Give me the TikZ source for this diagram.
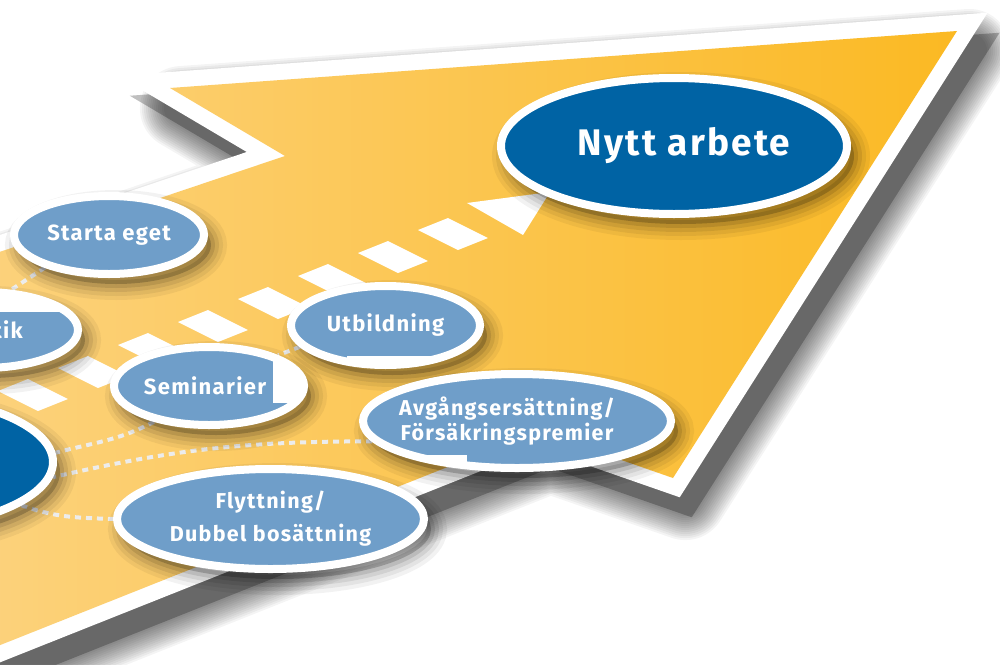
\documentclass[tikz,border=0pt]{standalone}
\usepackage{fontspec}
\setmainfont{Fira Sans}[LetterSpace=6, Ligatures=NoCommon]
\usetikzlibrary{shapes.geometric}
\pgfdeclarelayer{back}
\pgfsetlayers{back,main}
\definecolor{lblue}{RGB}{111,158,201}
\definecolor{dblue}{RGB}{0,99,164}
\definecolor{yleft}{RGB}{252,211,128}
\definecolor{yright}{RGB}{251,185,35}
\definecolor{dashgray}{RGB}{236,236,236}
\begin{document}
\begin{tikzpicture}[x=1pt,y=-1pt,
  ell/.style={ellipse, draw=white, line width=8pt, inner sep=-18pt, text=white, align=center,
    font=\bfseries\fontsize{22}{25}\selectfont,
    preaction={fill=black, fill opacity=0.2, transform canvas={shift={(7,10)}}},
    preaction={draw=black, draw opacity=0.1, line width=8pt, transform canvas={shift={(7,10)}}},
    preaction={draw=black, draw opacity=0.08, line width=16pt, transform canvas={shift={(7,10)}}},
    preaction={draw=black, draw opacity=0.06, line width=24pt, transform canvas={shift={(7,10)}}},
    preaction={draw=black, draw opacity=0.05, line width=32pt, transform canvas={shift={(7,10)}}}},
  lightell/.style={ell, fill=lblue},
  darkell/.style={ell, fill=dblue},
  conn/.style={draw=dashgray, line width=4pt, dash pattern=on 6pt off 5pt},
  stripebox/.style={fill=white},
  artefact/.style={fill=white}]
\useasboundingbox (0,0) rectangle (1000,664);
\def\arrowpath{(170,88) -- (957,31) -- (673,478) -- (538,431) -- (-60,669) -- (-60,272) -- (285,156) -- cycle}
\begin{pgfonlayer}{back}
\fill[white] (0,0) rectangle (1000,664);
% soft shadow of the big arrow
\foreach \i in {1,...,13}{
  \pgfmathsetmacro{\lw}{32+4*\i}
  \draw[line width=\lw pt, draw opacity=0.045, line join=round, shift={(12,20)}] \arrowpath;
}
\draw[line width=32pt, draw opacity=0.25, line join=miter, shift={(12,20)}] \arrowpath;
% white border and yellow body
\draw[white, line width=32pt, line join=miter] \arrowpath;
\shade[left color=yleft, right color=yright] \arrowpath;
% striped white arrow
\foreach \k in {0,...,7}{
  \fill[stripebox] ({418-60*\k},{230+23*\k}) -- ++(30,-12) -- ++(40,20) -- ++(-30,12) -- cycle;
}
\fill[stripebox] (467,203) -- (550,192) -- (523,235) -- cycle;
\end{pgfonlayer}

% ellipses
\node[darkell, minimum width=346pt, minimum height=136pt] (dark) at (-120,462) {};
\node[lightell, minimum width=190pt, minimum height=78pt] (start) at (109,235) {Starta eget};
\node[lightell, minimum width=190pt, minimum height=76pt] (prak) at (-17,330) {Praktik};
\begin{scope}
  \clip (-17,330) ellipse [x radius=95, y radius=38];
  \fill[artefact] (-120,288) rectangle (63,312);
\end{scope}
\node[lightell, minimum width=190pt, minimum height=78pt] (sem) at (209,386) {Seminarier\hspace*{8pt}};
\begin{scope}
  \clip (209,386) ellipse [x radius=95, y radius=39];
  \fill[artefact] (273,361) rectangle (320,403);
\end{scope}
\node[lightell, minimum width=189pt, minimum height=79pt] (utb) at (385.5,325.5) {Utbildning};
\begin{scope}
  \clip (385.5,325.5) ellipse [x radius=94.5, y radius=39.5];
  \fill[artefact] (347,356) rectangle (437,380);
\end{scope}
\node[lightell, minimum width=308pt, minimum height=94pt, font=\bfseries\fontsize{21.5}{25}\selectfont] (avg) at (517,421) {Avgångsersättning/\hspace*{20pt}\\Försäkringspremier\hspace*{20pt}};
\begin{scope}
  \clip (517,421) ellipse [x radius=154, y radius=47];
  \fill[artefact] (410,455) rectangle (467,480);
\end{scope}
\node[lightell, minimum width=307pt, minimum height=100pt, font=\bfseries\fontsize{21.5}{33}\selectfont] (fly) at (270.5,519) {Flyttning/\\Dubbel bosättning};
\node[darkell, minimum width=346pt, minimum height=136pt, font=\bfseries\fontsize{37}{40}\selectfont] (nytt) at (674,146) {\hspace*{20pt}Nytt arbete};

% dashed connectors
\begin{pgfonlayer}{back}
\draw[conn] (start.207) -- (prak.55);
\draw[conn] (utb.194) -- (sem.24);
\draw[conn] (sem.213) to[out=208,in=15] (dark.3);
\draw[conn] (avg.188) to[out=180,in=13] (dark.355);
\draw[conn] (dark.343) to[out=340,in=178] (fly.180);
\end{pgfonlayer}
\end{tikzpicture}
\end{document}
